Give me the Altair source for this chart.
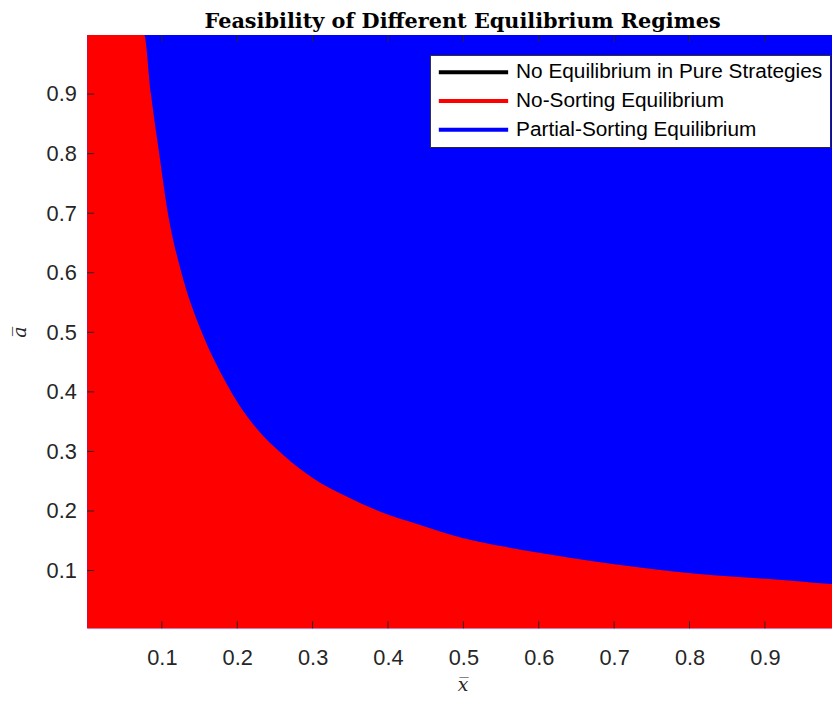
import altair as alt
import pandas as pd

title_text = "Feasibility of Different Equilibrium Regimes"
regimes = ["No Equilibrium in Pure Strategies", "No-Sorting Equilibrium", "Partial-Sorting Equilibrium"]
regime_colors = ["#000000", "#ff0000", "#0000ff"]

# boundary between the no-sorting (below) and partial-sorting (above) regions
boundary_x = [0.0, 0.0763, 0.0855, 0.0965, 0.108, 0.126, 0.153, 0.1814, 0.200, 0.226, 0.261,
              0.3006, 0.3444, 0.388, 0.4416, 0.4986, 0.5555, 0.6124, 0.6694, 0.7263, 0.8314,
              0.906, 0.989, 1.0]
boundary_a = [1.0, 1.0, 0.9, 0.8, 0.7, 0.6, 0.5, 0.424, 0.383, 0.338, 0.294,
              0.255, 0.2246, 0.1997, 0.177, 0.1548, 0.1398, 0.1272, 0.1161, 0.1066, 0.0923,
              0.0857, 0.0773, 0.0765]
tick_values = [0.1, 0.2, 0.3, 0.4, 0.5, 0.6, 0.7, 0.8, 0.9]
x_domain = [0.001, 0.989]
y_domain = [0.003, 0.999]

W, H = 752, 599
axis_color = "#262626"

blue_df = pd.DataFrame({"x": boundary_x, "lo": [0.0] * len(boundary_x), "hi": [1.0] * len(boundary_x),
                        "regime": regimes[2]})
red_df = pd.DataFrame({"x": boundary_x, "lo": [0.0] * len(boundary_x), "hi": boundary_a,
                       "regime": regimes[1]})
xticks_df = pd.DataFrame({"x": tick_values})
yticks_df = pd.DataFrame({"lo": tick_values})
legend_df = pd.DataFrame({"regime": regimes, "x": [0.5] * 3, "lo": [0.5] * 3})

xs = alt.Scale(domain=x_domain, nice=False, zero=False)
ys = alt.Scale(domain=y_domain, nice=False, zero=False)
cs = alt.Scale(domain=regimes, range=regime_colors)

x_axis = alt.Axis(values=tick_values, format=".1f", ticks=False, domain=False, grid=False,
                  labelFont="Liberation Sans", labelFontSize=22, labelColor=axis_color,
                  labelPadding=20, title="x\u0305", titleFont="DejaVu Serif", titleFontStyle="italic",
                  titleFontWeight="normal", titleFontSize=19, titleColor=axis_color,
                  titleBaseline="alphabetic", titleY=63, titleX=W / 2 + 3, titleAlign="center")
y_axis = alt.Axis(values=tick_values, format=".1f", ticks=False, domain=False, grid=False,
                  labelFont="Liberation Sans", labelFontSize=22, labelColor=axis_color,
                  labelPadding=11, title="a\u0305", titleFont="DejaVu Serif", titleFontStyle="italic",
                  titleFontWeight="normal", titleFontSize=19, titleColor=axis_color,
                  titleAngle=270, titleBaseline="middle", titleAlign="center", titleX=-68, titleY=H / 2)

blue = alt.Chart(blue_df).mark_area(clip=True, interpolate="monotone").encode(
    x=alt.X("x:Q", scale=xs, axis=x_axis),
    y=alt.Y("lo:Q", scale=ys, axis=y_axis),
    y2="hi:Q",
    color=alt.Color("regime:N", scale=cs, legend=None),
)
red = alt.Chart(red_df).mark_area(clip=True, interpolate="monotone").encode(
    x=alt.X("x:Q", scale=xs),
    y=alt.Y("lo:Q", scale=ys),
    y2="hi:Q",
    color=alt.Color("regime:N", scale=cs, legend=None),
)
legend_layer = alt.Chart(legend_df).mark_line(strokeWidth=4).encode(
    x=alt.X("x:Q", scale=xs),
    y=alt.Y("lo:Q", scale=ys),
    color=alt.Color("regime:N", scale=cs, legend=alt.Legend(
        title=None, orient="none", legendX=346, legendY=20, symbolType="stroke",
        symbolSize=4900, symbolStrokeWidth=4, clipHeight=21, labelOffset=6,
        labelFont="Liberation Sans", labelFontSize=21, labelColor="#000000",
        fillColor="white", strokeColor=axis_color, padding=7, rowPadding=7,
        labelLimit=400)),
)
xt_bottom = alt.Chart(xticks_df).mark_rule(color=axis_color, strokeWidth=1).encode(
    x=alt.X("x:Q", scale=xs), y=alt.value(H), y2=alt.value(H - 7))
xt_top = alt.Chart(xticks_df).mark_rule(color=axis_color, strokeWidth=1).encode(
    x=alt.X("x:Q", scale=xs), y=alt.value(0), y2=alt.value(7))
yt_left = alt.Chart(yticks_df).mark_rule(color=axis_color, strokeWidth=1).encode(
    y=alt.Y("lo:Q", scale=ys), x=alt.value(0), x2=alt.value(7))

chart = alt.layer(blue, red, legend_layer, xt_bottom, xt_top, yt_left).resolve_legend(
    color="independent"
).properties(
    width=W, height=H,
    title=alt.Title(title_text, font="DejaVu Serif", fontSize=21, fontWeight="bold", color="#000000",
                    anchor="middle", frame="group", offset=3, dx=3),
    padding={"left": 80, "top": 24, "right": 0, "bottom": 69},
    autosize=alt.AutoSizeParams(type="none"),
).configure_view(stroke=axis_color, strokeWidth=1).configure(background="white")

chart.save("out.html", embed_options={"renderer": "svg", "actions": False})
